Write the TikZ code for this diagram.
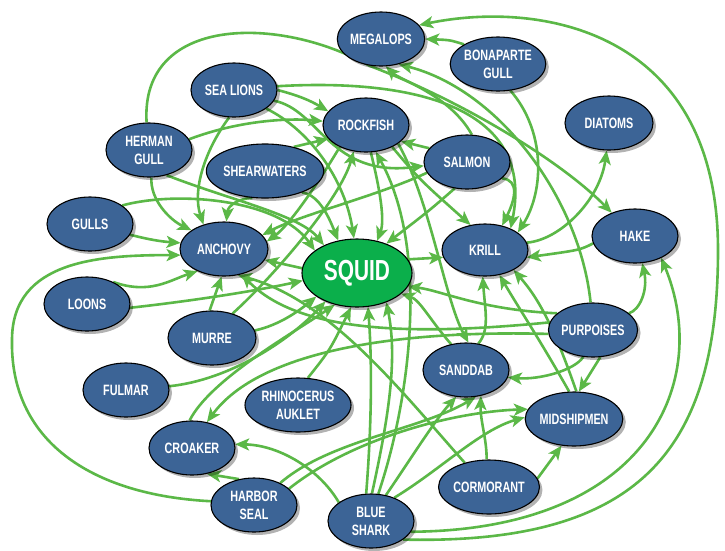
\documentclass[tikz,border=0pt]{standalone}
\usepackage{fontspec}
\newfontfamily\lblfont{Liberation Sans}[FakeStretch=0.72]
\usetikzlibrary{shapes.geometric,arrows.meta,shadows}
\definecolor{nodeblue}{HTML}{3C6496}
\definecolor{squidgreen}{HTML}{0BAF4B}
\definecolor{edgegreen}{HTML}{5BB847}
\pgfdeclarelayer{bg}
\pgfsetlayers{bg,main}
\begin{document}
\begin{tikzpicture}[x=1pt,y=-1pt,
  sp/.style={ellipse, draw=black, line width=1.1pt, fill=nodeblue, text=white,
    font=\lblfont\bfseries\fontsize{15}{18}\selectfont, align=center, inner sep=0pt,
    minimum width=86pt, minimum height=54pt,
    drop shadow={shadow xshift=3pt, shadow yshift=-3pt, opacity=0.3, fill=black}},
  sq/.style={sp, fill=squidgreen, font=\lblfont\bfseries\fontsize{29}{32}\selectfont,
    minimum width=110pt, minimum height=68pt},
  e/.style={draw=edgegreen, line width=2.6pt, -{Stealth[length=14pt,width=12pt,inset=3.5pt]}}
]
\useasboundingbox (0,0) rectangle (725,550);
% nodes
\node[sp] (meg) at (381,39) {MEGALOPS};
\node[sp, minimum width=88pt] (bg) at (498,64) {BONAPARTE\\GULL};
\node[sp] (sl) at (234,90) {SEA LIONS};
\node[sp] (rf) at (366,125) {ROCKFISH};
\node[sp, minimum width=88pt] (dia) at (609,123) {DIATOMS};
\node[sp] (hg) at (149,150) {HERMAN\\GULL};
\node[sp, minimum width=100pt] (sh) at (265,171) {SHEARWATERS};
\node[sp] (sal) at (467,162) {SALMON};
\node[sp] (gul) at (90,224) {GULLS};
\node[sp, minimum width=88pt] (anc) at (224,249) {ANCHOVY};
\node[sq] (squid) at (357,273) {SQUID};
\node[sp, minimum height=52pt] (kr) at (485,250) {KRILL};
\node[sp] (hk) at (635,236) {HAKE};
\node[sp] (lo) at (87,304) {LOONS};
\node[sp, minimum width=88pt] (mu) at (212,338) {MURRE};
\node[sp] (fu) at (126,390) {FULMAR};
\node[sp, minimum width=106pt] (rh) at (298,405) {RHINOCERUS\\AUKLET};
\node[sp] (cr) at (192,448) {CROAKER};
\node[sp] (hs) at (254,505) {HARBOR\\SEAL};
\node[sp] (bs) at (371,521) {BLUE\\SHARK};
\node[sp, minimum width=94pt] (co) at (489,487) {CORMORANT};
\node[sp] (sa) at (466,370) {SANDDAB};
\node[sp, minimum width=96pt] (mi) at (574,419) {MIDSHIPMEN};
\node[sp] (pu) at (593,330) {PURPOISES};
\begin{pgfonlayer}{bg}
\fill[white] (0,0) rectangle (725,550);
% top / outer
\draw[e] (bs.-30) .. controls (640,545) and (718,450) .. (718,250) .. controls (718,30) and (540,0) .. (meg.20);
\draw[e] (bs.-15) .. controls (650,530) and (712,380) .. (hk.-40);
\draw[e] (bg.150) .. controls (450,40) .. (meg.0);
\draw[e] (sal.80) .. controls (450,95) and (400,80) .. (meg.-80);
\draw[e] (pu.95) .. controls (580,200) and (500,90) .. (meg.-55);
\draw[e] (hg.95) .. controls (140,15) and (280,15) .. (370,66) .. controls (460,100) and (560,160) .. (hk.135);
\draw[e] (sl.5) .. controls (420,78) and (535,110) .. (kr.40);
\draw[e] (bg.-65) .. controls (545,130) and (545,190) .. (kr.28);
\draw[e] (sal.-25) .. controls (520,180) and (515,200) .. (kr.55);
\draw[e] (sal.160) -- (rf.-25);
\draw[e] (sl.-15) .. controls (320,110) and (330,178) .. (sal.185);
\draw[e] (sal.195) .. controls (380,195) and (300,215) .. (anc.20);
\draw[e] (sal.-115) .. controls (430,210) .. (squid.45);
\draw[e] (rf.-40) .. controls (420,180) .. (kr.120);
\draw[e] (rf.-30) .. controls (430,200) and (445,300) .. (sa.85);
\draw[e] (bs.75) .. controls (410,400) and (430,250) .. (rf.-70);
% rockfish incoming
\draw[e] (sl.0) to[bend left=8] (rf.160);
\draw[e] (hg.15) .. controls (240,120) and (290,118) .. (rf.175);
\draw[e] (sh.40) -- (rf.-160);
\draw[e] (mu.50) .. controls (270,280) and (340,200) .. (rf.-115);
\draw[e] (rf.-80) .. controls (380,190) and (385,220) .. (squid.58);
\draw[e] (rf.-140) .. controls (320,180) and (290,225) .. (anc.10);
% sea lions, shearwaters, herman gull, gulls
\draw[e] (sl.-100) .. controls (205,150) and (192,190) .. (anc.130);
\draw[e] (sl.-30) .. controls (310,130) and (345,180) .. (squid.95);
\draw[e] (sh.-115) .. controls (240,198) and (228,205) .. (anc.85);
\draw[e] (sh.-30) .. controls (320,195) and (330,220) .. (squid.120);
\draw[e] (hg.-85) .. controls (150,200) and (170,220) .. (anc.150);
\draw[e] (hg.-55) .. controls (230,200) and (300,215) .. (squid.140);
\draw[e] (gul.-15) to[bend right=5] (anc.172);
\draw[e] (gul.30) .. controls (180,190) and (280,200) .. (squid.152);
% left side
\draw[e] (hs.175) .. controls (90,495) and (10,440) .. (12,340) .. controls (12,260) and (100,255) .. (anc.188);
\draw[e] (lo.40) .. controls (150,295) and (170,280) .. (anc.-140);
\draw[e] (lo.-5) .. controls (200,300) and (260,290) .. (squid.-172);
\draw[e] (mu.95) -- (anc.-95);
\draw[e] (mu.10) .. controls (280,325) and (300,310) .. (squid.-150);
\draw[e] (fu.5) .. controls (230,380) and (290,340) .. (squid.-138);
\draw[e] (cr.95) .. controls (210,380) and (290,335) .. (squid.-125);
\draw[e] (rh.70) .. controls (330,350) .. (squid.-100);
\draw[e] (squid.175) -- (anc.-15);
\draw[e] (squid.15) -- (kr.190);
% blue shark
\draw[e] (bs.100) .. controls (372,420) and (372,360) .. (squid.-72);
\draw[e] (bs.88) .. controls (388,420) and (398,360) .. (squid.-45);
\draw[e] (bs.60) .. controls (410,460) and (435,420) .. (sa.-110);
\draw[e] (bs.45) .. controls (440,470) and (480,430) .. (mi.178);
\draw[e] (bs.150) .. controls (320,470) and (280,445) .. (cr.5);
% harbor seal
\draw[e] (hs.40) .. controls (330,440) and (420,430) .. (sa.-70);
\draw[e] (hs.25) .. controls (350,440) and (450,412) .. (mi.168);
\draw[e] (hs.120) -- (cr.-60);
% purpoises
\draw[e] (pu.185) .. controls (400,330) and (260,350) .. (cr.60);
\draw[e] (pu.170) .. controls (420,335) and (300,335) .. (anc.-55);
\draw[e] (pu.155) .. controls (480,310) and (440,290) .. (squid.-15);
\draw[e] (pu.25) .. controls (640,310) and (648,290) .. (hk.-75);
\draw[e] (pu.-75) -- (mi.80);
\draw[e] (pu.-110) .. controls (575,370) and (540,380) .. (sa.-10);
% cormorant, sanddab, midshipmen
\draw[e] (co.95) .. controls (487,440) and (480,420) .. (sa.-60);
\draw[e] (co.10) -- (mi.-115);
\draw[e] (co.135) .. controls (400,390) and (330,300) .. (anc.-62);
\draw[e] (sa.65) .. controls (490,330) and (485,310) .. (kr.-95);
\draw[e] (sa.120) .. controls (430,320) and (420,300) .. (squid.-25);
\draw[e] (mi.100) .. controls (540,340) and (520,310) .. (kr.-60);
\draw[e] (mi.85) .. controls (555,330) and (540,300) .. (kr.-35);
% krill, hake
\draw[e] (kr.10) .. controls (560,240) and (600,200) .. (dia.-95);
\draw[e] (hk.190) .. controls (580,250) .. (kr.-10);
\end{pgfonlayer}
\end{tikzpicture}
\end{document}
